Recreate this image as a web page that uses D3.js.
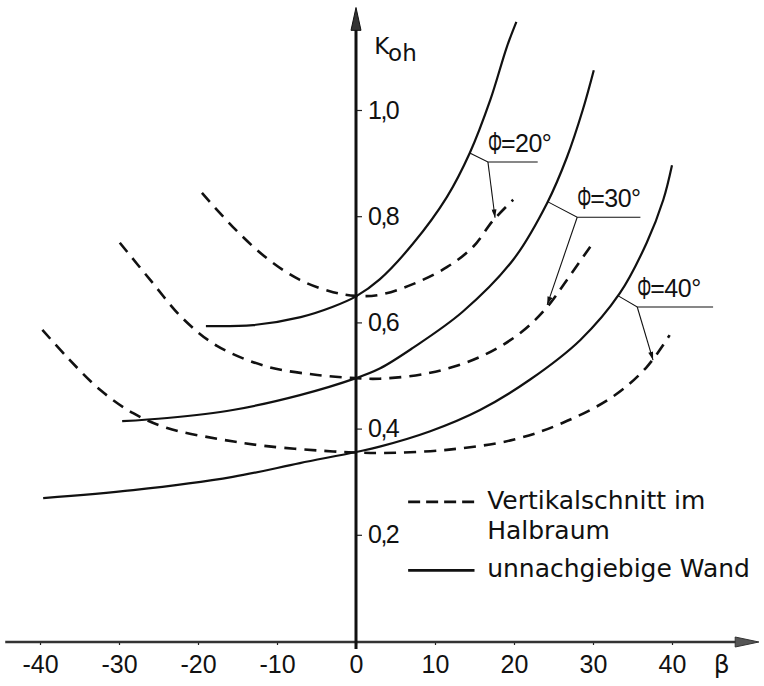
<!DOCTYPE html>
<html>
<head>
<meta charset="utf-8">
<script src="https://cdn.jsdelivr.net/npm/d3@7"></script>
<style>
    body { margin: 0; background: #fff; }
    text { font-family: "DejaVu Sans", sans-serif; fill: #111; }
    .axis text { font-family: "Liberation Sans", Arial, sans-serif; font-size: 25px; }
    .axis.y text { letter-spacing: -1.5px; }
    .phi text { font-family: "Liberation Sans", Arial, sans-serif; }
</style>
</head>
<body>
<div id="chart"></div>
<script>
// beta (deg) and K_oh
var betaS20 = [-19, -13, -7, -3, 0, 3, 7.2, 11.5, 14.4, 17, 19.1, 20.3];
var kS20    = [0.593, 0.595, 0.610, 0.629, 0.649, 0.681, 0.748, 0.836, 0.919, 1.019, 1.119, 1.166];
var betaS30 = [-29.6, -23.9, -15.6, -7.1, 0, 3, 7.2, 13.5, 19.9, 24.2, 26.7, 28.7, 30.1];
var kS30    = [0.414, 0.420, 0.435, 0.463, 0.495, 0.513, 0.552, 0.620, 0.718, 0.825, 0.911, 1.000, 1.075];
var betaS40 = [-39.6, -28.2, -15.6, -7.1, 0, 3, 9.4, 15.7, 22, 28.4, 33.4, 36.8, 38.9, 40];
var kS40    = [0.269, 0.284, 0.309, 0.335, 0.356, 0.366, 0.395, 0.435, 0.492, 0.567, 0.655, 0.750, 0.831, 0.896];

var betaD20 = [-19.5, -15.6, -11.3, -7.1, -2.9, 0, 3, 7.2, 11.5, 14.8, 17.3, 19.9];
var kD20    = [0.844, 0.780, 0.721, 0.680, 0.657, 0.650, 0.652, 0.672, 0.704, 0.742, 0.791, 0.831];
var betaD30 = [-29.9, -26.1, -21.9, -17.6, -11.3, -4.9, 0, 3, 9.4, 15.7, 20.8, 24.2, 26.7, 30];
var kD30    = [0.750, 0.681, 0.607, 0.556, 0.517, 0.501, 0.495, 0.494, 0.505, 0.535, 0.580, 0.629, 0.680, 0.750];
var betaD40 = [-39.7, -36.6, -32.4, -28.2, -23.9, -17.6, -11.3, -2.9, 0, 3, 11.5, 19.9, 26.2, 32.5, 36.8, 39.7];
var kD40    = [0.586, 0.535, 0.473, 0.429, 0.401, 0.381, 0.367, 0.357, 0.355, 0.354, 0.360, 0.379, 0.411, 0.460, 0.516, 0.576];

var xTicks = [-40, -30, -20, -10, 0, 10, 20, 30, 40];
var yTicks = [0.2, 0.4, 0.6, 0.8, 1.0];

// labels: curve point, knee, arrow end on dashed line, end of underline
var phiLabels = [
    {text: "=20°", curve: [14.4, 0.919], knee: [16.7, 0.902], tip: [17.6, 0.797], end: 23.0, base: 0.921},
    {text: "=30°", curve: [24.3, 0.827], knee: [28.0, 0.798], tip: [24.2, 0.633], end: 36.0, base: 0.818},
    {text: "=40°", curve: [33.2, 0.650], knee: [35.6, 0.629], tip: [37.6, 0.529], end: 45.2, base: 0.648}
];

var svgWidth = 764,
    svgHeight = 686;

var x = d3.scaleLinear().domain([-40, 40]).range([40, 672]);
var y = d3.scaleLinear().domain([0, 1.0]).range([641, 110]);

var svg = d3.select("#chart")
    .append("svg")
    .attr("width", svgWidth)
    .attr("height", svgHeight);

svg.append("defs").append("marker")
    .attr("id", "tipArrow")
    .attr("viewBox", "0 0 10 6")
    .attr("refX", 10)
    .attr("refY", 3)
    .attr("markerWidth", 9)
    .attr("markerHeight", 5)
    .attr("markerUnits", "userSpaceOnUse")
    .attr("orient", "auto")
    .append("path")
    .attr("d", "M0,0 L10,3 L0,6 Z")
    .attr("fill", "#111");

// x axis
var xAxis = d3.axisBottom(x)
    .tickValues(xTicks)
    .tickSize(4)
    .tickPadding(10)
    .tickFormat(d => String(d));

var gx = svg.append("g")
    .attr("class", "axis x")
    .attr("transform", `translate(0,${y(0)})`)
    .call(xAxis);
gx.select(".domain").remove();
gx.selectAll(".tick line").attr("stroke", "#222").attr("stroke-width", 1.2);

svg.append("line")
    .attr("x1", x(-44.4)).attr("x2", x(48.5))
    .attr("y1", y(0) + 1).attr("y2", y(0) + 1)
    .attr("stroke", "#333")
    .attr("stroke-width", 2.6);

svg.append("path")
    .attr("d", `M${x(51)},${y(0) + 1} L${x(48)},${y(0) - 4} L${x(48)},${y(0) + 6} Z`)
    .attr("fill", "#555")
    .attr("stroke", "#333");

svg.append("text")
    .attr("x", x(45.3))
    .attr("y", y(0) + 32)
    .attr("font-size", 25)
    .text("β");

// y axis
var yAxis = d3.axisRight(y)
    .tickValues(yTicks)
    .tickSize(6)
    .tickPadding(6)
    .tickFormat(d => d3.format(".1f")(d).replace(".", ","));

var gy = svg.append("g")
    .attr("class", "axis y")
    .attr("transform", `translate(${x(0)},0)`)
    .call(yAxis);
gy.select(".domain").remove();
gy.selectAll(".tick line").attr("stroke", "#222").attr("stroke-width", 1.2);

svg.append("line")
    .attr("x1", x(0)).attr("x2", x(0))
    .attr("y1", y(-0.015)).attr("y2", y(1.17))
    .attr("stroke", "#111")
    .attr("stroke-width", 3);

svg.append("path")
    .attr("d", `M${x(0)},${y(1.193)} L${x(0) - 5},${y(1.15)} L${x(0) + 5},${y(1.15)} Z`)
    .attr("fill", "#333")
    .attr("stroke", "#111");

var koh = svg.append("text")
    .attr("x", x(2.3))
    .attr("y", y(1.106))
    .attr("font-size", 23);
koh.append("tspan").text("K");
koh.append("tspan").attr("dy", 7).text("oh");

// curves
var valueline = d3.line()
    .curve(d3.curveCatmullRom.alpha(0.5))
    .x(d => x(d[0]))
    .y(d => y(d[1]));

var solid = [[betaS20, kS20], [betaS30, kS30], [betaS40, kS40]];
var dashed = [[betaD20, kD20], [betaD30, kD30], [betaD40, kD40]];

svg.selectAll(".solid")
    .data(solid)
    .enter()
    .append("path")
    .attr("class", "solid")
    .attr("d", d => valueline(d3.zip(d[0], d[1])))
    .attr("fill", "none")
    .attr("stroke", "#111")
    .attr("stroke-width", 2.2);

svg.selectAll(".dashed")
    .data(dashed)
    .enter()
    .append("path")
    .attr("class", "dashed")
    .attr("d", d => valueline(d3.zip(d[0], d[1])))
    .attr("fill", "none")
    .attr("stroke", "#111")
    .attr("stroke-width", 2.6)
    .attr("stroke-dasharray", "12,8");

// phi labels with leader lines
var lab = svg.selectAll(".phi")
    .data(phiLabels)
    .enter()
    .append("g")
    .attr("class", "phi");

lab.append("path")
    .attr("d", d => `M${x(d.curve[0])},${y(d.curve[1])} L${x(d.knee[0])},${y(d.knee[1])} L${x(d.end)},${y(d.knee[1])}`)
    .attr("fill", "none")
    .attr("stroke", "#111")
    .attr("stroke-width", 1.1);

lab.append("line")
    .attr("x1", d => x(d.knee[0]))
    .attr("y1", d => y(d.knee[1]))
    .attr("x2", d => x(d.tip[0]))
    .attr("y2", d => y(d.tip[1]))
    .attr("stroke", "#111")
    .attr("stroke-width", 1.1)
    .attr("marker-end", "url(#tipArrow)");

// narrow, tall phi like the stencil lettering
lab.append("text")
    .attr("transform", d => `translate(${x(d.knee[0])},${y(d.base) + 2}) scale(0.55,1)`)
    .attr("font-size", 32)
    .text("Φ");

lab.append("text")
    .attr("x", d => x(d.knee[0]) + 13)
    .attr("y", d => y(d.base))
    .attr("font-size", 25)
    .attr("letter-spacing", -0.5)
    .text(d => d.text);

// legend
var legendKeys = [
    {dash: "12,6", lines: ["Vertikalschnitt im", "Halbraum"], k: 0.262},
    {dash: null, lines: ["unnachgiebige Wand"], k: 0.133}
];

var lineLegend = svg.selectAll(".lineLegend")
    .data(legendKeys)
    .enter()
    .append("g")
    .attr("class", "lineLegend");

lineLegend.append("line")
    .attr("x1", x(6.6)).attr("x2", x(15))
    .attr("y1", d => y(d.k)).attr("y2", d => y(d.k))
    .attr("stroke", "#111")
    .attr("stroke-width", 2.6)
    .attr("stroke-dasharray", d => d.dash);

lineLegend.append("text")
    .attr("x", x(16.6))
    .attr("y", d => y(d.k) + 7)
    .attr("font-size", 25)
    .selectAll("tspan")
    .data(d => d.lines)
    .enter()
    .append("tspan")
    .attr("x", x(16.6))
    .attr("dy", (d, i) => i === 0 ? 0 : 30)
    .text(d => d);
</script>
</body>
</html>
